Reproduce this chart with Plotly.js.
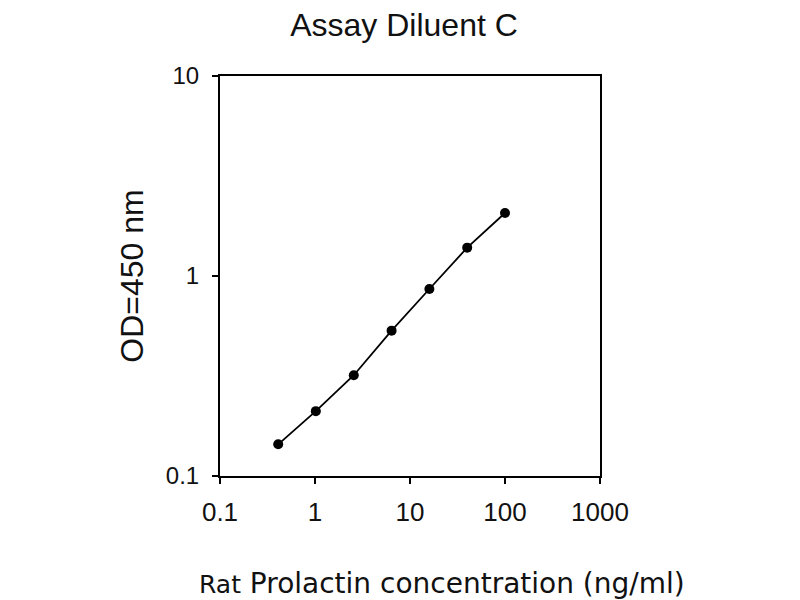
<!DOCTYPE html>
<html>
<head>
<meta charset="utf-8">
<script src="https://cdn.plot.ly/plotly-3.0.1.min.js"></script>
<style>html,body{margin:0;padding:0;background:#fff;}#chart{width:800px;height:600px;}</style>
</head>
<body>
<div id="chart"></div>
<script>
// Data
var concentration = [0.41, 1.02, 2.56, 6.4, 16, 40, 100];
var od450 = [0.144, 0.211, 0.319, 0.533, 0.861, 1.386, 2.065];

var xTickVals = [0.1, 1, 10, 100, 1000];
var xTickText = ["0.1", "1", "10", "100", "1000"];
var yTickVals = [0.1, 1, 10];
var yTickText = ["0.1", "1", "10"];

var titleText = "Assay Diluent C";
var xTitleText = "<span style='font-size:25px'>Rat</span> Prolactin concentration (ng/ml)";
var yTitleText = "OD=450 nm";

var trace = {
  x: concentration,
  y: od450,
  type: "scatter",
  mode: "lines+markers",
  line: {color: "#000", width: 1.8},
  marker: {color: "#000", size: 10, symbol: "circle"},
  showlegend: false,
  hoverinfo: "x+y"
};

var layout = {
  width: 800,
  height: 600,
  paper_bgcolor: "#fff",
  plot_bgcolor: "#fff",
  margin: {l: 220, r: 200, t: 76, b: 124},
  font: {family: "Liberation Sans, Arial, sans-serif", color: "#111"},
  title: {
    text: titleText,
    font: {family: "Liberation Sans, Arial, sans-serif", size: 32, color: "#111"},
    x: 0.505, xref: "container", xanchor: "center",
    y: 0.958, yref: "container", yanchor: "middle"
  },
  xaxis: {
    type: "log",
    range: [-1, 3],
    tickvals: xTickVals,
    ticktext: xTickText,
    ticks: "outside",
    ticklen: 6,
    tickwidth: 2,
    tickcolor: "#000",
    ticklabelstandoff: 6,
    tickfont: {family: "Liberation Sans, Arial, sans-serif", size: 26, color: "#111"},
    showline: true,
    linecolor: "#000",
    linewidth: 2,
    mirror: true,
    showgrid: false,
    zeroline: false,
    automargin: false
  },
  yaxis: {
    type: "log",
    range: [-1, 1],
    tickvals: yTickVals,
    ticktext: yTickText,
    ticks: "outside",
    ticklen: 6,
    tickwidth: 2,
    tickcolor: "#000",
    ticklabelstandoff: 8,
    tickfont: {family: "Liberation Sans, Arial, sans-serif", size: 24, color: "#111"},
    showline: true,
    linecolor: "#000",
    linewidth: 2,
    mirror: true,
    showgrid: false,
    zeroline: false,
    title: {
      text: yTitleText,
      font: {family: "Liberation Sans, Arial, sans-serif", size: 32, color: "#111"},
      standoff: 13
    },
    automargin: false
  },
  annotations: [{
    text: xTitleText,
    xref: "paper", yref: "paper",
    x: 0.584, y: -0.268,
    xanchor: "center", yanchor: "middle",
    showarrow: false,
    font: {family: "DejaVu Sans, Verdana, sans-serif", size: 28, color: "#111"}
  }]
};

Plotly.newPlot("chart", [trace], layout, {displayModeBar: false, staticPlot: true});
</script>
</body>
</html>
